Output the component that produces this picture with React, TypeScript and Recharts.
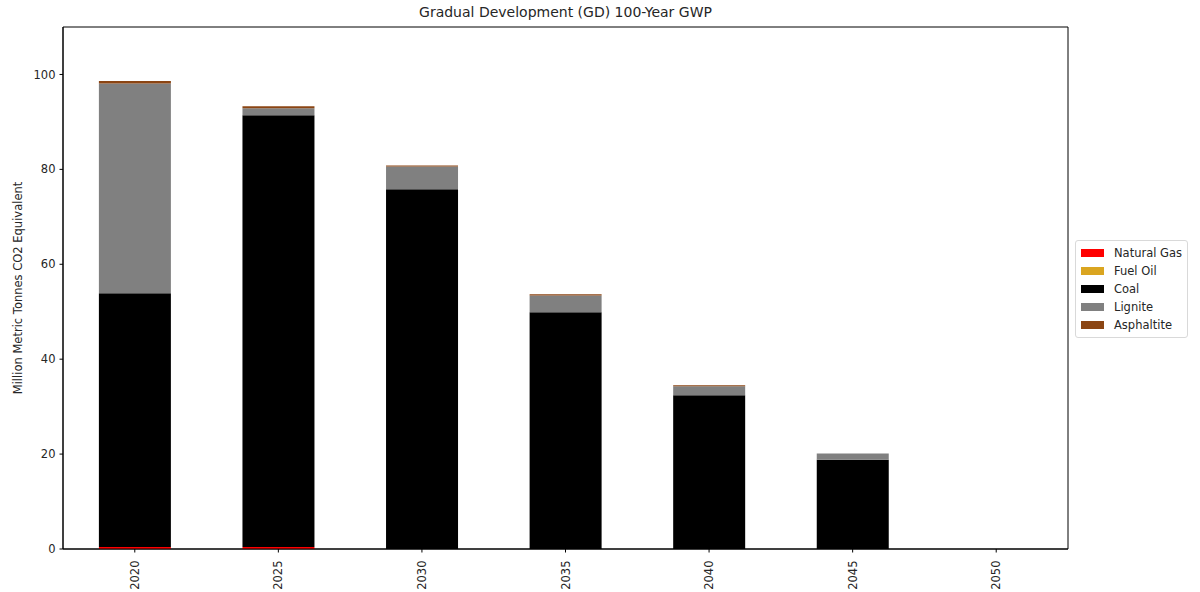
import React from 'react';
import { BarChart, Bar, XAxis, YAxis, Legend, ReferenceArea } from 'recharts';

const years = ['2020', '2025', '2030', '2035', '2040', '2045', '2050'];
const naturalGas = [0.4, 0.4, 0, 0, 0, 0, 0];
const fuelOil = [0, 0, 0, 0, 0, 0, 0];
const coal = [53.5, 91.0, 75.8, 49.9, 32.4, 18.8, 0];
const lignite = [44.2, 1.5, 4.8, 3.5, 1.9, 1.3, 0];
const asphaltite = [0.5, 0.4, 0.2, 0.3, 0.2, 0, 0];
const yTicks = [0, 20, 40, 60, 80, 100];

const series = [
  { key: 'naturalGas', name: 'Natural Gas', color: '#ff0000', values: naturalGas },
  { key: 'fuelOil', name: 'Fuel Oil', color: '#daa520', values: fuelOil },
  { key: 'coal', name: 'Coal', color: '#000000', values: coal },
  { key: 'lignite', name: 'Lignite', color: '#808080', values: lignite },
  { key: 'asphaltite', name: 'Asphaltite', color: '#8b4513', values: asphaltite },
];

const data = years.map((year, i) => {
  const row: Record<string, string | number> = { year };
  series.forEach((s) => {
    row[s.key] = s.values[i];
  });
  return row;
});

const font = 'DejaVu Sans, sans-serif';
const textColor = '#262626';

function LegendBox() {
  return (
    <div
      style={{
        border: '1px solid #d9d9d9',
        borderRadius: 3,
        background: '#fff',
        padding: '3px 6px 3px 5px',
        fontFamily: font,
        fontSize: 11.5,
        color: textColor,
        whiteSpace: 'nowrap',
        boxSizing: 'border-box',
        width: 113,
      }}
    >
      {series.map((s) => (
        <div key={s.key} style={{ display: 'flex', alignItems: 'center', height: 18 }}>
          <span style={{ width: 23, height: 8, background: s.color, marginRight: 10, flexShrink: 0 }} />
          <span>{s.name}</span>
        </div>
      ))}
    </div>
  );
}

function YLabel(props: any) {
  const vb = props.viewBox || {};
  const cy = (vb.y || 0) + (vb.height || 0) / 2;
  return (
    <text
      x={22}
      y={cy}
      transform={`rotate(-90 22 ${cy})`}
      textAnchor="middle"
      fontFamily={font}
      fontSize={11.5}
      fill={textColor}
    >
      Million Metric Tonnes CO2 Equivalent
    </text>
  );
}

function XTick(props: any) {
  const { x, y, payload } = props;
  return (
    <text
      x={x}
      y={y + 6}
      transform={`rotate(-90 ${x} ${y + 6})`}
      textAnchor="end"
      dominantBaseline="central"
      fontFamily={font}
      fontSize={11.5}
      fill={textColor}
    >
      {payload.value}
    </text>
  );
}

export default function App() {
  return (
    <div style={{ position: 'absolute', left: 0, top: 0, width: 1200, height: 592, background: '#fff' }}>
      <div
        style={{
          position: 'absolute',
          top: 4,
          left: 63,
          width: 1005,
          textAlign: 'center',
          fontFamily: font,
          fontSize: 14,
          color: textColor,
        }}
      >
        Gradual Development (GD) 100-Year GWP
      </div>
      <BarChart
        width={1200}
        height={592}
        data={data}
        margin={{ top: 27, right: 132, bottom: 0, left: 0 }}
        barCategoryGap="25%"
      >
        <XAxis
          dataKey="year"
          height={43}
          tick={<XTick />}
          tickSize={3.5}
          axisLine={{ stroke: '#000' }}
          tickLine={{ stroke: '#000' }}
          interval={0}
        />
        <YAxis
          width={63}
          domain={[0, 110]}
          ticks={yTicks}
          tickSize={3.5}
          tickMargin={4}
          axisLine={{ stroke: '#000' }}
          tickLine={{ stroke: '#000' }}
          tick={{ fontFamily: font, fontSize: 11.5, fill: textColor }}
          label={<YLabel />}
        />
        <ReferenceArea y1={0} y2={110} fill="none" stroke="#000" strokeWidth={1} ifOverflow="extendDomain" />
        {series.map((s) => (
          <Bar key={s.key} dataKey={s.key} name={s.name} stackId="a" fill={s.color} isAnimationActive={false} />
        ))}
        <Legend
          layout="horizontal"
          align="center"
          verticalAlign="middle"
          content={<LegendBox />}
          wrapperStyle={{ position: 'absolute', left: 1075, top: 240, width: 113 }}
        />
      </BarChart>
    </div>
  );
}
